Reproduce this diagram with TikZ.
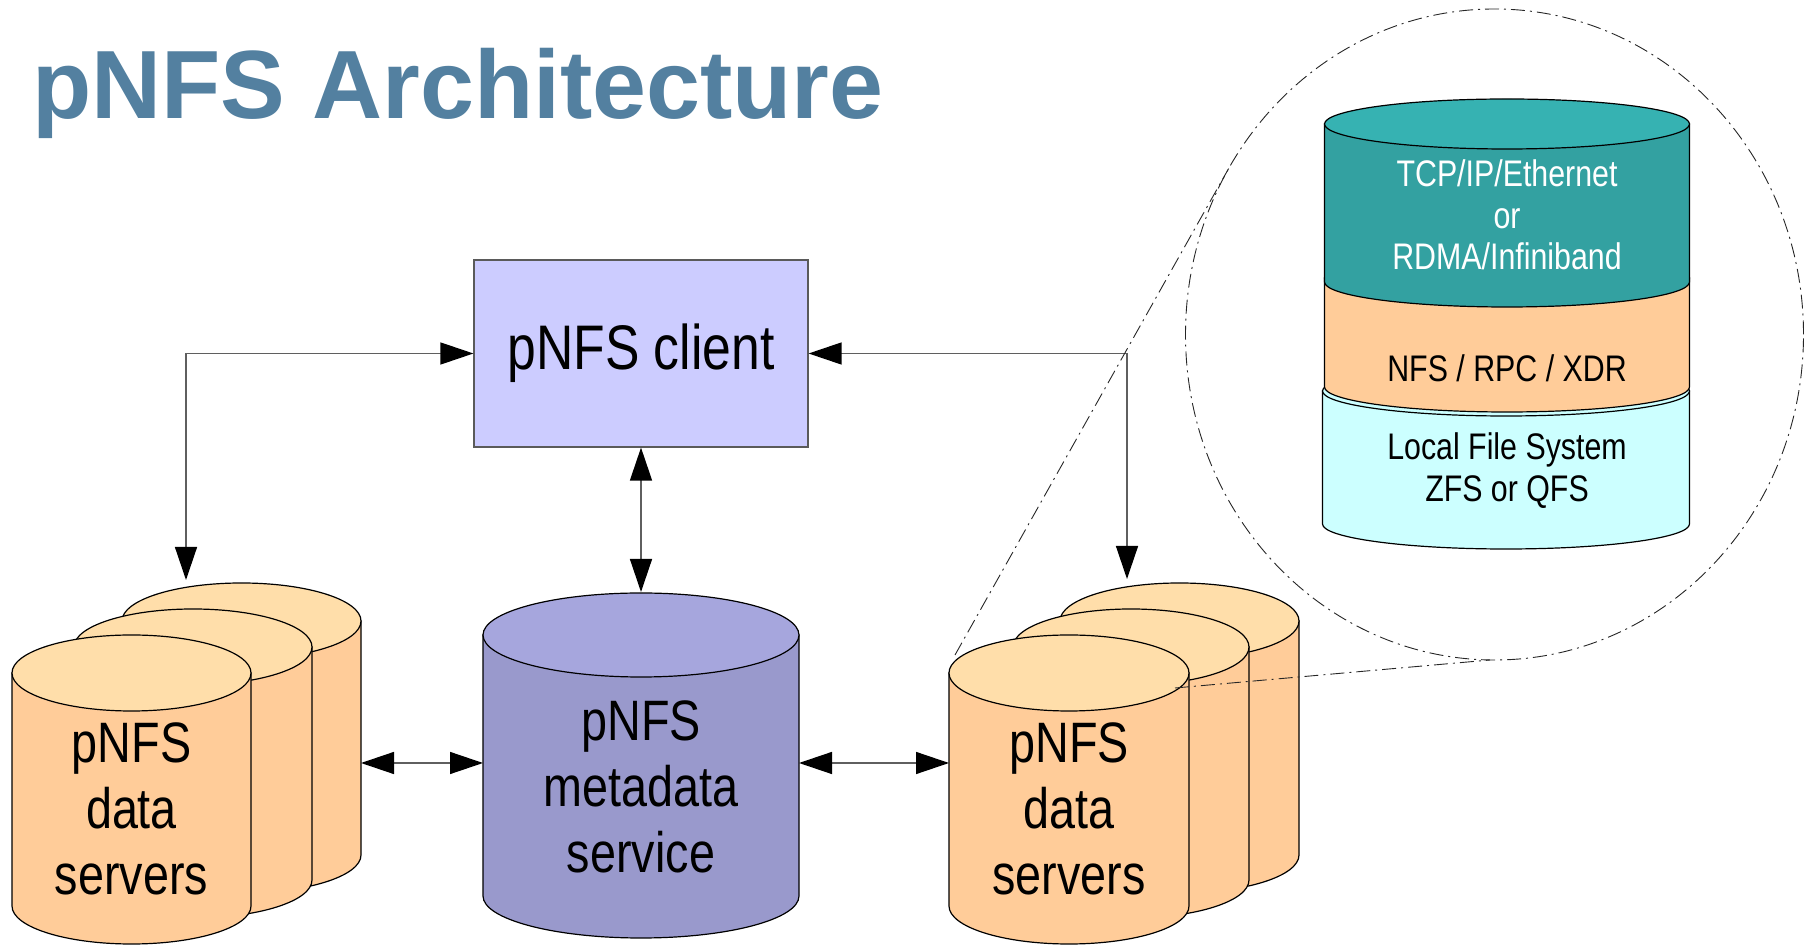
\documentclass[tikz,border=0pt]{standalone}
\usepackage{fontspec}
\setmainfont{Liberation Sans}
\newfontfamily\narrow[FakeStretch=0.82]{Liberation Sans}
\usetikzlibrary{arrows.meta}
\definecolor{titleblue}{RGB}{83,128,160}
\definecolor{clientfill}{RGB}{204,204,255}
\definecolor{clientline}{RGB}{90,90,90}
\definecolor{connline}{RGB}{95,95,95}
\definecolor{metatop}{RGB}{166,166,221}
\definecolor{metabody}{RGB}{153,153,204}
\definecolor{dstop}{RGB}{255,222,170}
\definecolor{dsbody}{RGB}{255,204,153}
\definecolor{tealtop}{RGB}{54,178,178}
\definecolor{tealbody}{RGB}{51,161,161}
\definecolor{cyanfill}{RGB}{204,255,255}
% cylinder: cx, top centre y (px, downwards), bottom centre y, rx, ry, top fill, body fill
\newcommand\mycyl[7]{%
  \pgfmathsetmacro\cyT{945-#2}\pgfmathsetmacro\cyB{945-#3}%
  \filldraw[cylline, fill=#7] ({#1-#4},\cyT) -- ({#1-#4},\cyB)
     arc[start angle=180, end angle=360, x radius=#4pt, y radius=#5pt]
     -- ({#1+#4},\cyT) -- cycle;
  \filldraw[cylline, fill=#6] (#1,\cyT) ellipse[x radius=#4pt, y radius=#5pt];
}
\begin{document}
\begin{tikzpicture}[x=1pt,y=1pt,
  cylline/.style={draw=black, line width=1.2pt},
  conn/.style={draw=connline, line width=1.4pt, <->, >={Triangle[length=33pt,width=22pt,color=black]}},
  magline/.style={draw=black!85, line width=0.9pt, dash pattern=on 14pt off 5pt on 2pt off 5pt},
  bigtext/.style={font=\narrow\fontsize{57}{66}\selectfont, align=center, inner sep=0pt, anchor=base},
  stacktext/.style={font=\narrow\fontsize{37}{41.5}\selectfont, align=center, inner sep=0pt, anchor=base}]
\useasboundingbox (0,0) rectangle (1808,945);

% title
\node[anchor=base west, inner sep=0pt, text=titleblue, font=\fontsize{97}{97}\selectfont\bfseries] (title) at (32,826) {pNFS Architecture};

% client
\node[draw=clientline, line width=1.2pt, fill=clientfill, minimum width=334pt, minimum height=187pt, inner sep=0pt,
      font=\narrow\fontsize{63}{63}\selectfont] (client) at (641,591.5) {pNFS client};

% left data servers
\mycyl{241.5}{621}{855}{119.5}{38}{dstop}{dsbody}
\mycyl{193}{647}{880}{119}{38}{dstop}{dsbody}
\mycyl{131.5}{673}{906}{119.5}{38}{dstop}{dsbody}
\node[bigtext] (lds) at (131.5,50) {pNFS\\data\\servers};

% right data servers
\mycyl{1179.5}{621}{855}{119.5}{38}{dstop}{dsbody}
\mycyl{1131}{647}{880}{118}{38}{dstop}{dsbody}
\mycyl{1069}{673}{906}{120}{38}{dstop}{dsbody}
\node[bigtext] (rds) at (1069,50) {pNFS\\data\\servers};

% metadata service
\mycyl{641}{635}{896}{158}{42}{metatop}{metabody}
\node[bigtext] (meta) at (641,72) {pNFS\\metadata\\service};

% connector end points
\coordinate (lsTop) at (186,365);
\coordinate (rsTop) at (1127,366);
\coordinate (metaTop) at (641,353);
\coordinate (lsE) at (361,182);
\coordinate (metaW) at (483,182);
\coordinate (metaE) at (799,182);
\coordinate (rsW) at (949,182);

\draw[conn] (client.west) -| (lsTop);
\draw[conn] (client.east) -| (rsTop);
\draw[conn] (client.south) -- (metaTop);
\draw[conn] (lsE) -- (metaW);
\draw[conn] (metaE) -- (rsW);

% magnifier
\coordinate (magC) at (1494.5,610.5);
\coordinate (magT1) at (1228.6,776.4);
\coordinate (magT2) at (1490,285);
\coordinate (dsA) at (955,290);
\coordinate (dsB) at (1175,257);
\draw[magline] (magC) ellipse[x radius=309pt, y radius=325.5pt];
\draw[magline] (dsA) -- (magT1);
\draw[magline] (dsB) -- (magT2);

% protocol stack
\mycyl{1506}{391}{524}{183.5}{25}{cyanfill}{cyanfill}
\mycyl{1507}{278}{387}{182.5}{25}{dsbody}{dsbody}
\mycyl{1507}{124}{282}{182.5}{25}{tealtop}{tealbody}
\node[stacktext, text=white] (net) at (1507,675) {TCP/IP/Ethernet\\or\\RDMA/Infiniband};
\node[stacktext] (nfs) at (1507,563) {NFS / RPC / XDR};
\node[stacktext, font=\narrow\fontsize{37}{42}\selectfont] (lfs) at (1507,443) {Local File System\\ZFS or QFS};
\end{tikzpicture}
\end{document}
